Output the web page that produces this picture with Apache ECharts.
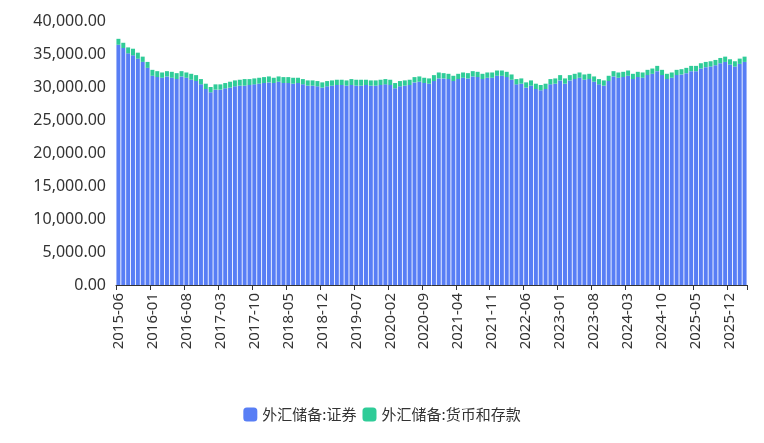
<!DOCTYPE html>
<html><head><meta charset="utf-8">
<script src="https://cdn.jsdelivr.net/npm/echarts@6/dist/echarts.min.js"></script>
<style>html,body{margin:0;padding:0;background:#fff}#c{width:764px;height:443px}</style>
</head><body><div id="c"></div>
<script>
const startYear = 2015, startMonth = 6, monthCount = 130;
const categories = [];
for (let i = 0; i < monthCount; i++) {
  const m = startMonth - 1 + i;
  const y = startYear + Math.floor(m / 12);
  categories.push(y + '-' + String(m % 12 + 1).padStart(2, '0'));
}
const securities = [
36400,35900,35100,34800,34300,33800,32900,
31700,31500,31400,31600,31400,31200,31600,31400,31100,30900,30400,29700,
29200,29600,29600,29800,29900,30100,30200,30200,30300,30400,30500,30600,
30700,30600,30800,30600,30600,30500,30600,30400,30200,30200,30100,29900,
30100,30200,30300,30300,30200,30300,30200,30200,30300,30200,30200,30300,
30400,30300,29800,30100,30200,30300,30700,30800,30600,30500,30900,31300,
31300,31200,30900,31200,31400,31300,31600,31500,31200,31400,31400,31700,
31700,31500,31100,30400,30500,29900,30200,29700,29500,29700,30400,30500,
31000,30500,31000,31200,31400,31100,31200,30800,30400,30200,30900,31600,
31400,31500,31700,31200,31500,31400,31800,32000,32400,31800,31200,31400,
31800,31900,32100,32400,32400,32800,33000,33100,33300,33600,33800,33400,
33100,33500,33800];
const deposits = [
900,800,900,1000,900,800,900,
900,900,800,800,900,900,800,800,900,900,800,800,
800,800,800,800,900,900,900,1000,900,900,900,900,
900,800,800,900,900,900,800,800,800,800,800,800,
800,800,800,800,800,900,900,900,800,800,800,800,
800,800,800,800,800,800,800,800,800,800,900,900,
800,800,800,800,800,800,800,800,800,800,800,800,
800,800,800,800,800,800,800,800,800,800,800,800,
800,800,800,800,800,800,800,800,800,800,800,800,
800,800,800,800,800,800,800,800,800,800,800,800,
800,800,800,800,800,800,800,800,800,800,800,800,
800,800,800];
const seriesNames = ['外汇储备:证券', '外汇储备:货币和存款'];
const chart = echarts.init(document.getElementById('c'));
chart.setOption({
  animation: false,
  grid: { left: 116, right: 17, top: 21, bottom: 158 },
  legend: { bottom: 16, left: 'center', itemWidth: 14, itemHeight: 14, itemGap: 6,
    textStyle: { fontSize: 15, color: '#333', fontFamily: 'Noto Sans CJK SC' },
    data: seriesNames.map(n => ({ name: n, icon: 'roundRect' })) },
  xAxis: { type: 'category', data: categories,
    axisLine: { lineStyle: { color: '#333' } }, axisTick: { show: true, interval: 6, lineStyle: { color: '#333' } },
    axisLabel: { interval: 6, rotate: 90, fontSize: 15, color: '#333', fontFamily: 'Noto Sans' } },
  yAxis: { type: 'value', min: 0, max: 40000, interval: 5000,
    splitLine: { show: false }, axisLine: { show: false },
    axisLabel: { fontSize: 16, color: '#333', fontFamily: 'Noto Sans', margin: 10,
      formatter: v => v.toLocaleString('en-US', { minimumFractionDigits: 2, maximumFractionDigits: 2 }) } },
  series: [
    { name: seriesNames[0], type: 'bar', stack: 't', data: securities, barCategoryGap: '18%',
      itemStyle: { color: '#587ef5' } },
    { name: seriesNames[1], type: 'bar', stack: 't', data: deposits,
      itemStyle: { color: '#2fcc98' } }
  ]
});
</script></body></html>
